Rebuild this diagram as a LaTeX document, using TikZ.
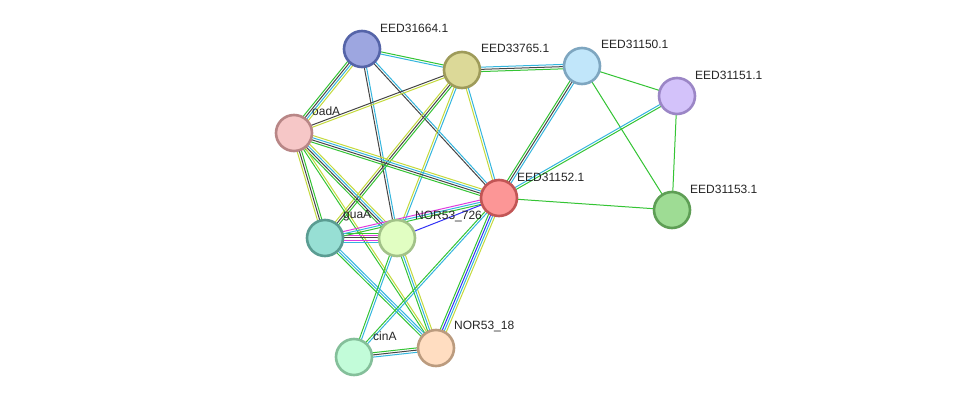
\documentclass[tikz,border=0pt]{standalone}
\usepackage{fontspec}
\setmainfont{Liberation Sans}
\usetikzlibrary{calc,backgrounds}
\definecolor{G}{RGB}{52,196,52}
\definecolor{C}{RGB}{52,182,222}
\definecolor{K}{RGB}{70,70,70}
\definecolor{Y}{RGB}{196,218,60}
\definecolor{M}{RGB}{222,60,222}
\definecolor{B}{RGB}{50,50,245}
\tikzset{
  prot/.style={circle, minimum size=36pt, inner sep=0pt, line width=2.6pt},
  lbl/.style={anchor=west, font=\fontsize{12}{12}\selectfont, inner sep=0pt, text=black!85},
  ln/.style={line width=1pt}
}
\newcommand{\edgebundle}[4]{%
  \foreach \cc [count=\ii] in {#4} {%
    \pgfmathsetmacro\off{(\ii-(#3+1)/2)*2.2}%
    \draw[ln,\cc] ($(#1.center)!\off pt!90:(#2.center)$) -- ($(#2.center)!\off pt!-90:(#1.center)$);
  }%
}
\begin{document}
\begin{tikzpicture}[x=1pt,y=-1pt]
\useasboundingbox (0,0) rectangle (975,403);
% nodes
\node[prot, fill={rgb,255:red,157;green,166;blue,224}, draw={rgb,255:red,85;green,100;blue,168}] (n664) at (362,49) {};
\node[prot, fill={rgb,255:red,220;green,217;blue,152}, draw={rgb,255:red,158;green,155;blue,90}] (n765) at (462,70) {};
\node[prot, fill={rgb,255:red,193;green,230;blue,250}, draw={rgb,255:red,126;green,166;blue,192}] (n150) at (582,66) {};
\node[prot, fill={rgb,255:red,211;green,194;blue,250}, draw={rgb,255:red,155;green,134;blue,198}] (n151) at (677,96) {};
\node[prot, fill={rgb,255:red,246;green,199;blue,199}, draw={rgb,255:red,184;green,134;blue,134}] (oad) at (294,133) {};
\node[prot, fill={rgb,255:red,252;green,150;blue,150}, draw={rgb,255:red,194;green,85;blue,85}] (n152) at (499,198) {};
\node[prot, fill={rgb,255:red,158;green,220;blue,148}, draw={rgb,255:red,94;green,158;blue,85}] (n153) at (672,210) {};
\node[prot, fill={rgb,255:red,151;green,223;blue,212}, draw={rgb,255:red,90;green,156;blue,146}] (gua) at (325,238) {};
\node[prot, fill={rgb,255:red,225;green,254;blue,194}, draw={rgb,255:red,162;green,194;blue,136}] (n726) at (397,238) {};
\node[prot, fill={rgb,255:red,194;green,252;blue,217}, draw={rgb,255:red,132;green,191;blue,154}] (cin) at (354,357) {};
\node[prot, fill={rgb,255:red,255;green,221;blue,193}, draw={rgb,255:red,187;green,155;blue,126}] (n18) at (436,348) {};
% edges
\begin{pgfonlayer}{background}
\fill[white] (0,0) rectangle (975,403);
\edgebundle{n664}{n765}{2}{C,G}
\edgebundle{n664}{oad}{4}{G,K,C,Y}
\edgebundle{n664}{n726}{2}{K,C}
\edgebundle{n664}{n152}{2}{K,C}
\edgebundle{n765}{n150}{3}{G,K,C}
\edgebundle{n765}{oad}{2}{K,Y}
\edgebundle{n765}{gua}{3}{Y,K,G}
\edgebundle{n765}{n726}{2}{Y,C}
\edgebundle{n765}{n152}{2}{Y,C}
\edgebundle{n150}{n152}{3}{G,K,C}
\edgebundle{n150}{n151}{1}{G}
\edgebundle{n150}{n153}{1}{G}
\edgebundle{n151}{n152}{2}{C,G}
\edgebundle{n151}{n153}{1}{G}
\edgebundle{n152}{n153}{1}{G}
\edgebundle{oad}{n152}{4}{G,K,C,Y}
\edgebundle{oad}{gua}{3}{Y,K,G}
\edgebundle{oad}{n726}{4}{G,K,C,Y}
\edgebundle{oad}{n18}{2}{G,Y}
\edgebundle{gua}{n726}{5}{C,M,K,M,G}
\edgebundle{gua}{n152}{3}{G,C,M}
\edgebundle{gua}{n18}{3}{G,C,C}
\edgebundle{n726}{n152}{1}{B}
\edgebundle{n726}{cin}{2}{G,C}
\edgebundle{n726}{n18}{3}{G,C,Y}
\edgebundle{n152}{cin}{2}{G,C}
\edgebundle{n152}{n18}{4}{G,B,C,Y}
\edgebundle{cin}{n18}{3}{C,K,G}
\end{pgfonlayer}
% labels
\node[lbl] (l664) at (380,28) {EED31664.1};
\node[lbl] (l765) at (481,48) {EED33765.1};
\node[lbl] (l150) at (601,44) {EED31150.1};
\node[lbl] (l151) at (695,75) {EED31151.1};
\node[lbl] (load) at (312,111) {oadA};
\node[lbl] (l152) at (517,177) {EED31152.1};
\node[lbl] (l153) at (690,189) {EED31153.1};
\node[lbl] (lgua) at (343,216) {guaA};
\node[lbl] (l726) at (415,217) {NOR53\_726};
\node[lbl] (lcin) at (373,336) {cinA};
\node[lbl] (l18) at (454,327) {NOR53\_18};
\end{tikzpicture}
\end{document}
